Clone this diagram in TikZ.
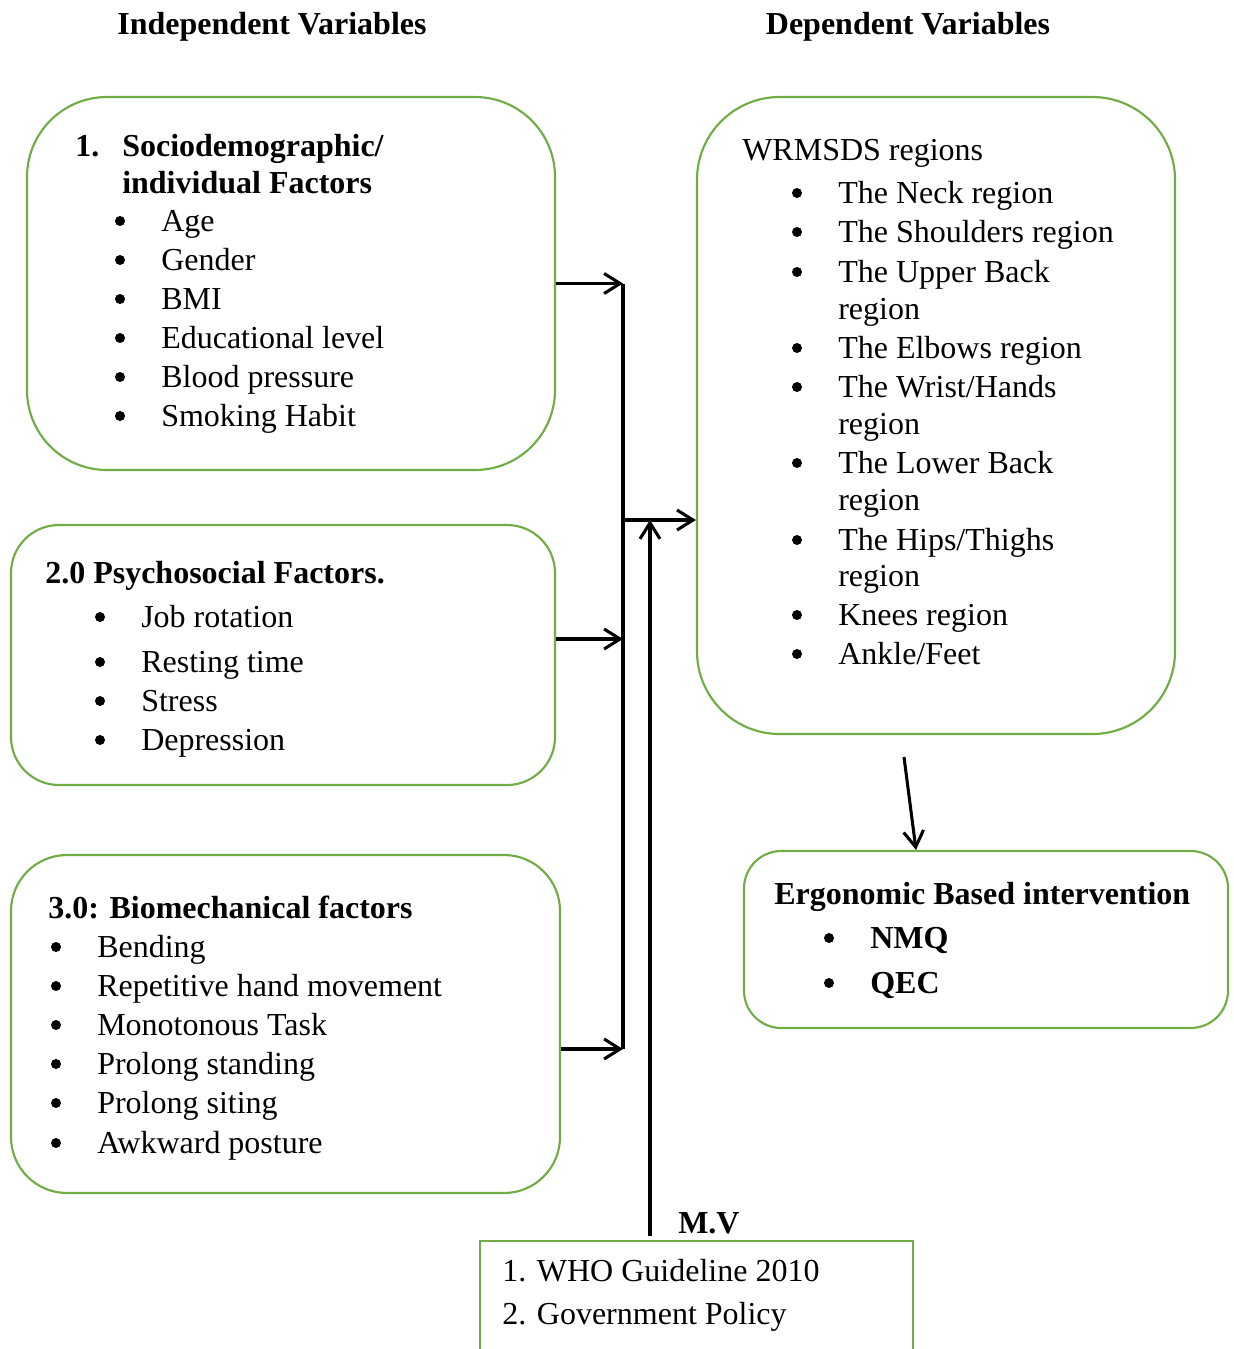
\documentclass[tikz,border=0pt]{standalone}
\usepackage{fontspec}
\setmainfont{Liberation Serif}
\usetikzlibrary{arrows.meta,fit}
\definecolor{boxgreen}{HTML}{70AD47}
\begin{document}
\begin{tikzpicture}[x=0.75pt,y=-0.75pt,
  box/.style={draw=boxgreen,line width=1.6pt,inner sep=0pt},
  txt/.style={anchor=base west,inner sep=0pt,font=\fontsize{24}{28}\selectfont},
  btxt/.style={txt,font=\fontsize{24}{28}\selectfont\bfseries},
  bul/.style={circle,fill=black,inner sep=0pt,minimum size=7.5pt},
  arr/.style={line width=2.3pt,-{Straight Barb[length=12pt,width=15pt,line width=2.3pt]}},
  ln/.style={line width=2.3pt}]
\useasboundingbox (0,0) rectangle (1234,1349);

% headers
\node[btxt,anchor=base] (hind) at (272,34) {Independent Variables};
\node[btxt,anchor=base] (hdep) at (908,34) {Dependent Variables};

% boxes
\node[box,rounded corners=60pt,fit={(27,97) (555,470)}] (box1) {};
\node[box,rounded corners=36pt,fit={(11,525) (555,785)}] (box2) {};
\node[box,rounded corners=42pt,fit={(11,855) (560,1193)}] (box3) {};
\node[box,rounded corners=62pt,fit={(697,97) (1175,734)}] (rbox) {};
\node[box,rounded corners=28pt,fit={(744,851) (1228,1028)}] (ergo) {};

% box 1 text
\node[btxt] (b1n) at (75,156) {1.};
\node[btxt] (b1t1) at (122,156) {Sociodemographic/};
\node[btxt] (b1t2) at (122,193) {individual Factors};
\foreach \t/\y [count=\i] in {Age/221,Gender/260,BMI/299,Educational level/338,Blood pressure/377,Smoking Habit/416}{
  \node[bul] (b1b\i) at (120,\y) {};
  \node[txt] (b1i\i) at (161,\y+10) {\t};
}

% box 2 text
\node[btxt] (b2t) at (45,583) {2.0 Psychosocial Factors.};
\foreach \t/\y [count=\i] in {Job rotation/617,Resting time/662,Stress/701,Depression/740}{
  \node[bul] (b2b\i) at (100,\y) {};
  \node[txt] (b2i\i) at (141,\y+10) {\t};
}

% box 3 text
\node[btxt] (b3t) at (48,918) {3.0: Biomechanical factors};
\foreach \t/\y [count=\i] in {Bending/947,Repetitive hand movement/986,Monotonous Task/1025,Prolong standing/1064,Prolong siting/1103,Awkward posture/1143}{
  \node[bul] (b3b\i) at (56,\y) {};
  \node[txt] (b3i\i) at (97,\y+10) {\t};
}

% right box text
\node[txt] (rt) at (742,160) {WRMSDS regions};
\foreach \t/\y [count=\i] in {The Neck region/193,The Shoulders region/232,The Upper Back/272,The Elbows region/348,{The Wrist/Hands}/387,The Lower Back/463,{The Hips/Thighs}/540,Knees region/615,{Ankle/Feet}/654}{
  \node[bul] (rb\i) at (797,\y) {};
  \node[txt] (ri\i) at (838,\y+10) {\t};
}
\foreach \y [count=\i] in {319,434,510,586}{
  \node[txt] (rr\i) at (838,\y) {region};
}

% ergonomic box text
\node[btxt] (et) at (774,904) {Ergonomic Based intervention};
\node[bul] (eb1) at (829,938) {};
\node[btxt] (ei1) at (870,948) {NMQ};
\node[bul] (eb2) at (829,983) {};
\node[btxt] (ei2) at (870,993) {QEC};

% moderating variables box (bottom open)
\draw[draw=boxgreen,line width=1.6pt] (480,1352) -- (480,1241) -- (913,1241) -- (913,1352);
\coordinate (pbox) at (650,1236);
\node[btxt] (mv) at (678,1233) {M.V};
\node[txt] (p1) at (502,1281) {1. WHO Guideline 2010};
\node[txt] (p2) at (502,1324) {2. Government Policy};

% connectors
\coordinate (bus1) at (623,283.5);
\coordinate (bus2) at (623,639);
\coordinate (bus3) at (623,1049);
\coordinate (busm) at (625,520);
\coordinate (mvtip) at (650,520);
\draw[ln] (bus1) -- (bus3);
\draw[arr] (box1.east) -- (bus1);
\draw[arr] (box2.east |- bus2) -- (bus2);
\draw[arr] (box3.east |- bus3) -- (bus3);
\draw[arr] (busm) -- (rbox.west |- busm);
\draw[arr] (pbox) -- (mvtip);
\coordinate (rout) at (904,757);
\draw[arr] (rout) -- (ergo.north -| 916,0);
\end{tikzpicture}
\end{document}
